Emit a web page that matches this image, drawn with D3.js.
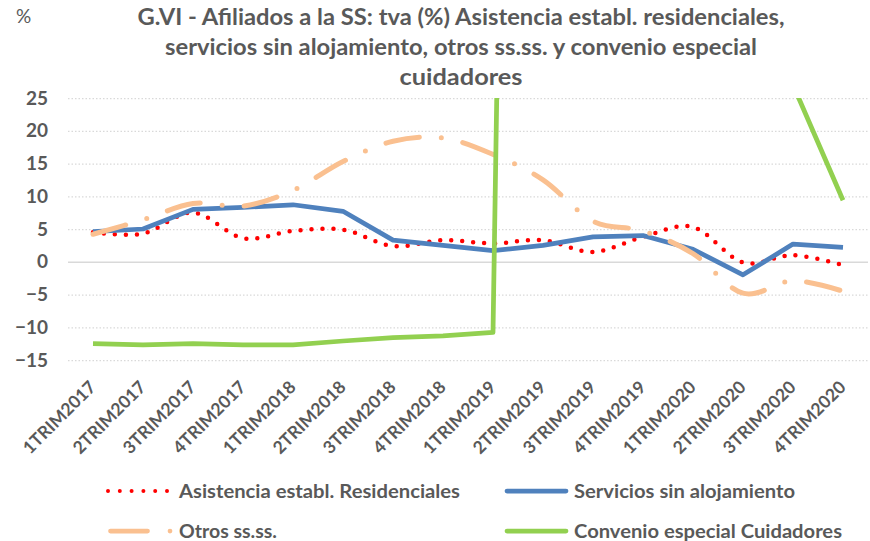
<!DOCTYPE html>
<html><head><meta charset="utf-8">
<script src="https://cdn.jsdelivr.net/npm/d3@7"></script>
<style>body{margin:0;background:#fff} svg{display:block}</style>
</head><body><svg id="c" width="870" height="541"></svg>
<script>
const categories = ["1TRIM2017","2TRIM2017","3TRIM2017","4TRIM2017","1TRIM2018","2TRIM2018","3TRIM2018","4TRIM2018","1TRIM2019","2TRIM2019","3TRIM2019","4TRIM2019","1TRIM2020","2TRIM2020","3TRIM2020","4TRIM2020"];
const residenciales = [4.5, 4.3, 7.5, 3.6, 4.7, 4.9, 2.4, 3.3, 2.8, 3.3, 1.5, 3.8, 5.3, -0.1, 1.0, -0.5];
const servicios = [4.6, 5.0, 8.0, 8.3, 8.7, 7.7, 3.3, 2.5, 1.7, 2.5, 3.8, 4.0, 1.9, -2.0, 2.7, 2.2];
const otros = [4.2, 6.4, 8.9, 8.5, 10.9, 15.3, 18.4, 18.9, 16.4, 12.5, 6.2, 4.7, 1.25, -4.8, -2.9, -4.5];
const cuidadores = [-12.5, -12.7, -12.5, -12.7, -12.7, -12.1, -11.6, -11.3, -10.8, 470, 520, 560, 480, 230, 27, 9.4];
const yTicks = [25, 20, 15, 10, 5, 0, -5, -10, -15];
const seriesNames = ["Asistencia establ. Residenciales", "Servicios sin alojamiento", "Otros ss.ss.", "Convenio especial Cuidadores"];
const titleLines = ["G.VI - Afiliados a la SS: tva (%) Asistencia establ. residenciales,", "servicios sin alojamiento, otros ss.ss. y convenio especial", "cuidadores"];

const svg = d3.select("#c");
const FONT = "Lato, 'Open Sans', sans-serif";
const GREY = "#595959";
const L = 68, R = 868, T = 98, B = 360;

const x = d3.scalePoint().domain(categories).range([L + 25, R - 25]);
const y = d3.scaleLinear().domain([-15, 25]).range([B, T]);

// title
const titleY = [25, 55, 85];
const titleW = [647, 592, 123];
titleLines.forEach((t, i) => {
  svg.append("text").attr("x", 461).attr("y", titleY[i]).attr("text-anchor", "middle")
    .attr("font-family", FONT).attr("font-weight", "bold").attr("font-size", 22)
    .attr("fill", GREY).attr("textLength", titleW[i]).attr("lengthAdjust", "spacingAndGlyphs").text(t);
});
svg.append("text").attr("x", 16).attr("y", 23).attr("font-family", FONT).attr("font-size", 19)
  .attr("fill", GREY).text("%");

// gridlines
const grid = svg.append("g").attr("transform", `translate(${L},0)`)
  .call(d3.axisLeft(y).tickValues(yTicks).tickSize(-(R - L)).tickFormat(""));
grid.select(".domain").remove();
grid.selectAll(".tick line").attr("stroke", "#D9D9D9")
  .attr("stroke-dasharray", d => d === 0 ? null : "1.5 2")
  .attr("stroke-width", d => d === 0 ? 1.5 : 1.25);

// y axis labels
const ya = svg.append("g").attr("transform", `translate(52,0)`)
  .call(d3.axisLeft(y).tickValues(yTicks).tickSize(0).tickPadding(4));
ya.select(".domain").remove();
ya.selectAll("text").attr("font-family", FONT).attr("font-weight", "bold").attr("font-size", 19).attr("fill", GREY);

// x axis labels
const xa = svg.append("g").attr("transform", `translate(0,${B})`)
  .call(d3.axisBottom(x).tickSize(0).tickPadding(0));
xa.select(".domain").remove();
xa.selectAll("text").attr("font-family", FONT).attr("font-weight", "bold").attr("font-size", 17.5).attr("fill", GREY)
  .attr("text-anchor", "end").attr("y", 0).attr("dy", "0.35em")
  .attr("transform", "translate(-1,24) rotate(-45)");

// clip
svg.append("clipPath").attr("id", "plotclip").append("rect")
  .attr("x", L).attr("y", T).attr("width", R - L).attr("height", B - T);
const plot = svg.append("g").attr("clip-path", "url(#plotclip)");

const smooth = d3.line().x((d, i) => x(categories[i])).y(d => y(d)).curve(d3.curveCardinal.tension(0));
const straight = d3.line().x((d, i) => x(categories[i])).y(d => y(d));

const styles = [
  {data: residenciales, gen: smooth, color: "#FF0000", w: 4.5, dash: "0 11", cap: "round"},
  {data: servicios, gen: straight, color: "#4F81BD", w: 4.75, dash: null, cap: "butt"},
  {data: otros, gen: smooth, color: "#FAC090", w: 5, dash: "34 22 0 22", cap: "round"},
  {data: cuidadores, gen: straight, color: "#92D050", w: 4.75, dash: null, cap: "butt"}
];
styles.forEach(s => {
  plot.append("path").attr("d", s.gen(s.data)).attr("fill", "none").attr("stroke", s.color)
    .attr("stroke-width", s.w).attr("stroke-dasharray", s.dash).attr("stroke-linecap", s.cap)
    .attr("stroke-linejoin", "round");
});

// legend
const leg = [
  {x1: 108, x2: 168, y: 491, tx: 179, tw: 281, dash: "0 11.8", st: styles[0]},
  {x1: 507, x2: 566, y: 491, tx: 574, tw: 221, dash: null, st: styles[1]},
  {x1: 110.5, x2: 172, y: 531, tx: 179, tw: 98, dash: "37 22.5 0 100", st: styles[2]},
  {x1: 507, x2: 566, y: 531, tx: 574, tw: 268, dash: null, st: styles[3]}
];
leg.forEach((l, i) => {
  svg.append("line").attr("x1", l.x1).attr("x2", l.x2).attr("y1", l.y).attr("y2", l.y)
    .attr("stroke", l.st.color).attr("stroke-width", i === 0 ? 4 : 4.75)
    .attr("stroke-dasharray", l.dash).attr("stroke-linecap", "round");
  svg.append("text").attr("x", l.tx).attr("y", l.y + 6.5).attr("font-family", FONT)
    .attr("font-weight", "bold").attr("font-size", 18).attr("fill", GREY)
    .attr("textLength", l.tw).attr("lengthAdjust", "spacingAndGlyphs").text(seriesNames[i]);
});
</script></body></html>
